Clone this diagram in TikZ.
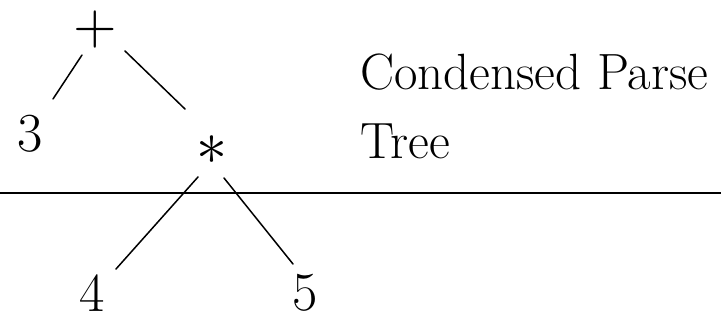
\documentclass[tikz,border=0pt]{standalone}
\usepackage{graphicx}
\usetikzlibrary{calc}
\begin{document}
\begin{tikzpicture}[x=1pt,y=-1pt,
  sym/.style={inner sep=0pt,font=\fontsize{55}{58}\selectfont},
  edge/.style={line width=1.5pt,line cap=round},
  lbl/.style={inner sep=0pt,anchor=base west,font=\fontsize{51}{54}\selectfont}]
\useasboundingbox[fill=white] (0,0) rectangle (721,321);
\node[inner sep=0pt] (plus) at (95,30) {\scalebox{5.6}{$+$}};
\node[sym] (three) at (30,134) {3};
\node[inner sep=0pt] (star) at (212,150) {\scalebox{6.2}{$\ast$}};
\node[sym] (four) at (92,293) {4};
\node[sym] (five) at (305,293) {5};
\draw[edge] ($(plus)+(-13,25)$) -- ($(three)+(23,-35)$);
\draw[edge] ($(plus)+(30,21)$) -- ($(star)+(-27,-41)$);
\draw[edge] ($(star)+(-14,27)$) -- ($(four)+(24,-24)$);
\draw[edge] ($(star)+(12,28)$) -- ($(five)+(-12,-29)$);
\coordinate (hl) at (0,193);
\coordinate (hr) at (721,193);
\draw[line width=1.3pt] (hl) -- (hr);
\node[lbl] (title1) at (360,90) {Condensed Parse};
\node[lbl] (title2) at (360,158) {Tree};
\end{tikzpicture}
\end{document}
